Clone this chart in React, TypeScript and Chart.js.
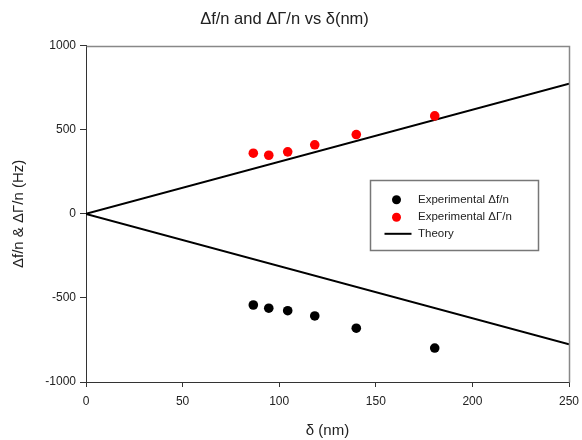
import React, { useEffect, useRef } from 'react';
import { Chart, registerables } from 'chart.js';

Chart.register(...registerables);

// ---- data ----
const deltaNm = [86.6, 94.6, 104.4, 118.4, 139.9, 180.5];
const freqShift = [-542, -561, -576, -607, -680, -798];
const dissShift = [361, 349, 369, 411, 472, 583];
const theoryX = [250, 0, 250];
const theoryY = [775, 0, -775];
const xTicks = [0, 50, 100, 150, 200, 250];
const yTicks = [-1000, -500, 0, 500, 1000];
const seriesLabels = ['Experimental \u0394f/n', 'Experimental \u0394\u0393/n', 'Theory'];
const seriesColors = ['#000000', '#ff0000', '#000000'];
const chartTitle = '\u0394f/n and \u0394\u0393/n vs \u03b4(nm)';
const xTitle = '\u03b4 (nm)';
const yTitle = '\u0394f/n & \u0394\u0393/n (Hz)';

const FONT = 'Arial, "Liberation Sans", sans-serif';

const frameBox = {
  id: 'frameBox',
  afterDraw(chart: any) {
    const { ctx, chartArea: a } = chart;
    const l = Math.round(a.left) + 0.5;
    const t = Math.round(a.top) + 0.5;
    const r = Math.round(a.right) + 0.5;
    const b = Math.round(a.bottom) + 0.5;
    ctx.save();
    ctx.strokeStyle = '#888';
    ctx.lineWidth = 1.5;
    ctx.beginPath();
    ctx.moveTo(l, t);
    ctx.lineTo(r, t);
    ctx.lineTo(r, b);
    ctx.stroke();
    ctx.restore();
  },
};

const legendBox = {
  id: 'legendBox',
  afterDraw(chart: any) {
    const { ctx, chartArea: a } = chart;
    const x0 = Math.round(a.left + (a.right - a.left) * 0.589) + 0.5;
    const y0 = Math.round(a.top + (a.bottom - a.top) * 0.399) + 0.5;
    const w = 168;
    const h = 70;
    ctx.save();
    ctx.fillStyle = '#fff';
    ctx.fillRect(x0, y0, w, h);
    ctx.strokeStyle = '#777';
    ctx.lineWidth = 1.5;
    ctx.strokeRect(x0, y0, w, h);
    ctx.font = `11.5px ${FONT}`;
    ctx.textBaseline = 'middle';
    ctx.textAlign = 'left';
    const rows = [y0 + 19.3, y0 + 36.7, y0 + 53.3];
    for (let i = 0; i < 3; i++) {
      const cy = rows[i];
      if (i < 2) {
        ctx.fillStyle = seriesColors[i];
        ctx.beginPath();
        ctx.arc(x0 + 26, cy, 4.5, 0, Math.PI * 2);
        ctx.fill();
      } else {
        ctx.strokeStyle = seriesColors[i];
        ctx.lineWidth = 2;
        ctx.beginPath();
        ctx.moveTo(x0 + 14, cy);
        ctx.lineTo(x0 + 41, cy);
        ctx.stroke();
      }
      ctx.fillStyle = '#222';
      ctx.fillText(seriesLabels[i], x0 + 47.5, cy);
    }
    ctx.restore();
  },
};

export default function App() {
  const ref = useRef<HTMLCanvasElement | null>(null);
  useEffect(() => {
    document.body.style.margin = '0';
    const canvas = ref.current!;
    const chart = new Chart(canvas, {
      type: 'scatter',
      data: {
        datasets: [
          {
            label: seriesLabels[0],
            data: deltaNm.map((x, i) => ({ x, y: freqShift[i] })),
            backgroundColor: seriesColors[0],
            borderColor: seriesColors[0],
            pointRadius: 4.8,
            pointBorderWidth: 0,
          },
          {
            label: seriesLabels[1],
            data: deltaNm.map((x, i) => ({ x, y: dissShift[i] })),
            backgroundColor: seriesColors[1],
            borderColor: seriesColors[1],
            pointRadius: 4.8,
            pointBorderWidth: 0,
          },
          {
            label: seriesLabels[2],
            data: theoryX.map((x, i) => ({ x, y: theoryY[i] })),
            showLine: true,
            borderColor: seriesColors[2],
            backgroundColor: seriesColors[2],
            borderWidth: 2,
            pointRadius: 0,
            tension: 0,
          },
        ],
      },
      options: {
        animation: false,
        responsive: false,
        maintainAspectRatio: false,
        layout: { padding: { left: 0, right: 13, top: 0, bottom: 0 } },
        plugins: {
          legend: { display: false },
          tooltip: { enabled: false },
          title: {
            display: true,
            text: chartTitle,
            color: '#222',
            font: { family: FONT, size: 16.5, weight: 'normal' },
            padding: { top: 10, bottom: 16 },
          },
        },
        scales: {
          x: {
            type: 'linear',
            min: 0,
            max: 250,
            afterBuildTicks: (s: any) => {
              s.ticks = xTicks.map((v) => ({ value: v }));
            },
            afterFit: (s: any) => {
              s.height = 58;
              s.paddingRight = 0;
              s.paddingLeft = 0;
            },
            grid: { display: true, drawOnChartArea: false, drawTicks: true, tickLength: 5, color: '#333' },
            border: { display: true, color: '#333' },
            ticks: { color: '#222', font: { family: FONT, size: 12 }, padding: 7, maxRotation: 0, callback: (v: any) => String(v) },
            title: { display: true, text: xTitle, color: '#222', font: { family: FONT, size: 15 }, padding: { top: 4, bottom: 0 } },
          },
          y: {
            type: 'linear',
            min: -1000,
            max: 1000,
            afterBuildTicks: (s: any) => {
              s.ticks = yTicks.map((v) => ({ value: v }));
            },
            afterFit: (s: any) => {
              s.width = 86;
            },
            grid: { display: true, drawOnChartArea: false, drawTicks: true, tickLength: 6, color: '#333' },
            border: { display: true, color: '#333' },
            ticks: { color: '#222', font: { family: FONT, size: 12 }, padding: 4, callback: (v: any) => String(v) },
            title: { display: true, text: yTitle, color: '#222', font: { family: FONT, size: 15 }, padding: { top: 10, bottom: 0 } },
          },
        },
      },
      plugins: [frameBox, legendBox],
    });
    return () => chart.destroy();
  }, []);
  return (
    <div style={{ width: 582, height: 440, background: '#fff' }}>
      <canvas ref={ref} width={582} height={440} style={{ display: 'block', width: 582, height: 440 }} />
    </div>
  );
}
